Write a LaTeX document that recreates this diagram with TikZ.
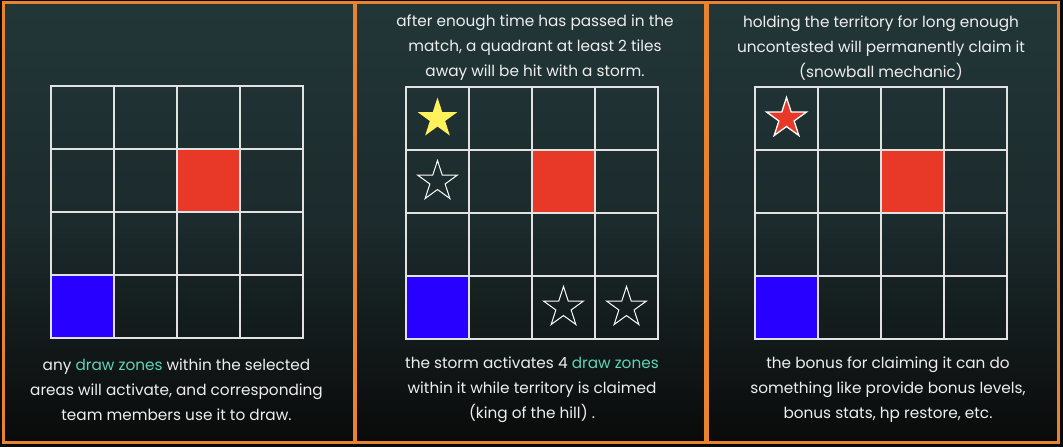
\documentclass[tikz,border=0pt]{standalone}
\usepackage{fontspec}
\setmainfont{Poppins}
\usetikzlibrary{shapes.geometric}
\definecolor{myorange}{RGB}{232,131,47}
\definecolor{myteal}{RGB}{34,54,56}
\definecolor{myblack}{RGB}{10,10,10}
\definecolor{myred}{RGB}{232,56,40}
\definecolor{myblue}{RGB}{40,0,255}
\definecolor{myyellow}{RGB}{255,242,90}
\definecolor{mymint}{RGB}{92,212,182}
\definecolor{mygrid}{RGB}{226,226,226}
\definecolor{mytext}{RGB}{238,238,238}

\begin{document}
\begin{tikzpicture}[x=1pt, y=-1pt,
    every node/.style={font=\fontsize{15.3}{25}\selectfont, text=mytext},
    panel/.style={draw=myorange, line width=3pt, inner sep=0pt,
                  top color=myteal, bottom color=myblack,
                  middle color=myteal!75!myblack,
                  minimum height=439.5pt},
    cell/.style={draw=mygrid, line width=2pt, minimum size=63pt, inner sep=0pt},
    caption/.style={align=center, inner sep=0pt},
    storm/.style={star, star points=5, star point ratio=2.618,
                  minimum size=42pt, inner sep=0pt}]
  \useasboundingbox (0,0) rectangle (1063,447);
  \fill[myblack] (0,0) rectangle (1063,447);

  % three panels
  \node[panel, minimum width=350.5pt] (p1) at (178.75,222.25) {};
  \node[panel, minimum width=350pt]   (p2) at (530.5,222.25) {};
  \node[panel, minimum width=351.5pt] (p3) at (882.75,222.25) {};

  % 4x4 grids
  \foreach \p/\gx/\gy in {a/51/86, b/406/87, c/755/87}
    \foreach \i in {0,...,3}
      \foreach \j in {0,...,3}
        \node[cell] (\p\i\j) at ({\gx+31.5+63*\i},{\gy+31.5+63*\j}) {};

  % claimed cells
  \foreach \c/\col in {a21/myred, a03/myblue, b21/myred, b03/myblue,
                       c21/myred, c03/myblue}
    \node[cell, fill=\col] at (\c) {};

  % storm quadrant
  \node[storm, fill=myyellow] (s1) at (b00) {};
  \foreach \c in {b01, b23, b33}
    \node[storm, draw=white, line width=1pt] (s\c) at (\c) {};
  \node[storm, fill=myred, draw=white, line width=1.3pt] (s2) at (c00) {};

  % captions
  \node[caption] (t2) at (535,48)
    {after enough time has passed in the\\
     match, a quadrant at least 2 tiles\\
     away will be hit with a storm.};
  \node[caption] (t3) at (881,48)
    {holding the territory for long enough\\
     uncontested will permanently claim it\\
     (snowball mechanic)};
  \node[caption] (b1) at (176.5,390)
    {any \textcolor{mymint}{draw zones} within the selected\\
     areas will activate, and corresponding\\
     team members use it to draw.};
  \node[caption] (b2) at (532,390)
    {the storm activates 4 \textcolor{mymint}{draw zones}\\
     within it while territory is claimed\\
     (king of the hill) .};
  \node[caption] (b3) at (888,390)
    {the bonus for claiming it can do\\
     something like provide bonus levels,\\
     bonus stats, hp restore, etc.};
\end{tikzpicture}
\end{document}
